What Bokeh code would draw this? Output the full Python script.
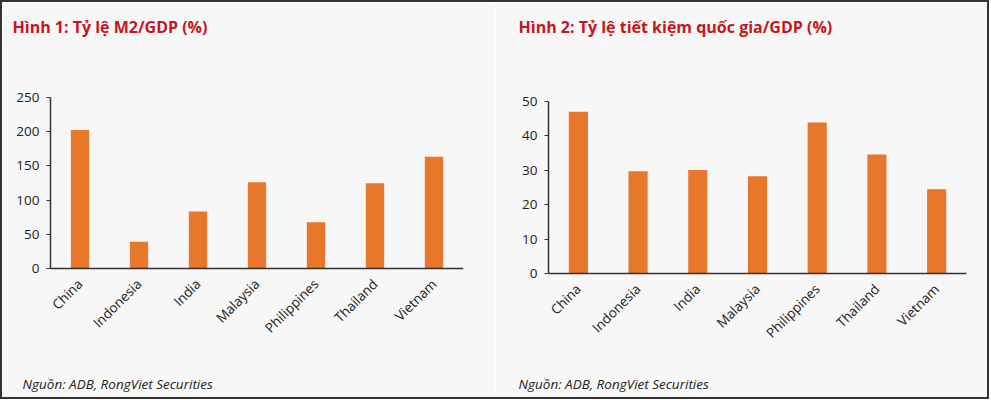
from math import pi
from bokeh.plotting import figure
from bokeh.layouts import row
from bokeh.models import Title, ColumnDataSource, Span
from bokeh.embed import file_html
from bokeh.resources import INLINE

countries = ["China", "Indonesia", "India", "Malaysia", "Philippines", "Thailand", "Vietnam"]
m2_gdp = [202.5, 39, 83.5, 126, 67.5, 124.5, 163.5]
saving_gdp = [47.0, 29.7, 30.1, 28.3, 43.9, 34.6, 24.5]
y1_ticks = [0, 50, 100, 150, 200, 250]
y2_ticks = [0, 10, 20, 30, 40, 50]
title1 = "Hình 1: Tỷ lệ M2/GDP (%)"
title2 = "Hình 2: Tỷ lệ tiết kiệm quốc gia/GDP (%)"
source_text = "Nguồn:  ADB, RongViet Securities"

BG = "#f7f7f7"
BAR = "#e8762b"
RED = "#c4161c"
INK = "#222222"
AXIS = "#333333"
FONT = "Open Sans"

TOP = 95      # frame top inside canvas
BOTTOM = 124  # border below frame


def make_chart(values, ticks, y_range, ymax, title, width, ml, mr, bar_w,
               title_off, src_off, zero_above_bottom):
    p = figure(x_range=countries, y_range=y_range, width=width, height=395,
               output_backend="svg", toolbar_location=None,
               min_border_left=ml, min_border_right=mr,
               min_border_top=TOP, min_border_bottom=BOTTOM)
    p.background_fill_color = BG
    p.border_fill_color = BG
    p.outline_line_color = None
    p.grid.visible = False
    p.x_range.range_padding = 0
    src = ColumnDataSource(dict(c=countries, v=values))
    p.vbar(x="c", top="v", width=bar_w, source=src, color=BAR, line_color=None)

    p.yaxis.ticker = ticks
    p.yaxis.bounds = (0, ymax)
    p.yaxis.major_tick_in = 0
    p.yaxis.major_tick_out = 4
    p.yaxis.minor_tick_line_color = None
    p.yaxis.major_label_standoff = 7
    p.xaxis.major_tick_in = 0
    p.xaxis.major_tick_out = 0
    p.xaxis.major_label_orientation = pi / 4
    p.xaxis.major_label_standoff = 13 - zero_above_bottom
    for ax in (p.xaxis, p.yaxis):
        ax.axis_line_color = AXIS
        ax.axis_line_width = 1.5
        ax.major_tick_line_color = AXIS
        ax.major_label_text_font = FONT
        ax.major_label_text_font_size = "13.5px"
        ax.major_label_text_color = INK
    if zero_above_bottom:
        p.xaxis.axis_line_color = None
        p.add_layout(Span(location=0, dimension="width", line_color=AXIS, line_width=1.5))

    # spacer between frame and title
    p.add_layout(Title(text=" ", standoff=44, text_font_size="12px"), "above")
    p.title.text = title
    p.title.align = "left"
    p.title.offset = title_off
    p.title.standoff = 0
    p.title.text_font = FONT
    p.title.text_font_style = "bold"
    p.title.text_font_size = "16px"
    p.title.text_color = RED

    # spacer below the axis, then the source line
    p.add_layout(Title(text=" ", standoff=6 + zero_above_bottom, text_font_size="12px"), "below")
    p.add_layout(Title(text=source_text, align="left", offset=src_off, standoff=0,
                       text_font=FONT, text_font_style="italic", text_font_size="13.5px",
                       text_color=INK), "below")
    return p


# left: 250 at frame top, zero line 5px above frame bottom (171px per 250)
p1 = make_chart(m2_gdp, y1_ticks, (-7.3, 250), 250, title1, 493, 48, 32, 0.31, -38, -28, 5)
# right: zero at frame bottom, 50 at 4px below top (172px per 50)
p2 = make_chart(saving_gdp, y2_ticks, (0, 51.16), 50, title2, 492, 53, 21, 0.32, -30, -30, 0)

layout = row(p1, p2, styles={"border": "2px solid #333333"})
open("out.html", "w").write(file_html(layout, INLINE))
